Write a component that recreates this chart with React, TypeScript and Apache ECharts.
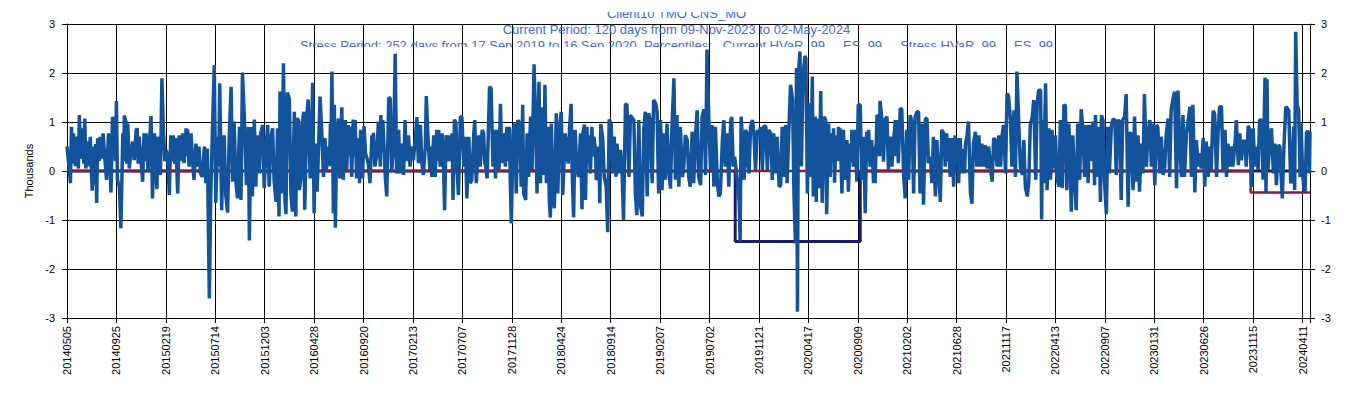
import React, { useEffect, useRef } from "react";
import * as echarts from "echarts";

// x tick labels, one every 100 trading days (day index 0, 100, ... 2500)
const tickLabels = [
  "20140505", "20140925", "20150219", "20150714", "20151203", "20160428",
  "20160920", "20170213", "20170707", "20171128", "20180424", "20180914",
  "20190207", "20190702", "20191121", "20200417", "20200909", "20210202",
  "20210628", "20211117", "20220413", "20220907", "20230131", "20230626",
  "20231115", "20240411",
];
const yTicks = [-3, -2, -1, 0, 1, 2, 3];

// daily P&L in thousands, [trading-day index, value]
const pnl2014to2016 = [
  [0,0.5],[3,0.2],[7,-0.25],[9,0.9],[11,0.15],[13,0.77],[17,0.1],[20,0.7],[23,0.05],[25,1.14],
  [28,0.25],[32,0.87],[34,0.15],[36,1.07],[38,0.05],[42,0.6],[45,0.1],[47,0.7],[51,-0.4],[53,0.5],
  [55,-0.29],[58,0.55],[60,-0.65],[62,0.67],[65,0.2],[67,0.7],[70,0.25],[73,0.77],[77,0.2],[80,-0.18],
  [84,0.77],[87,0.1],[89,-0.44],[92,1.1],[96,1.0],[98,0.2],[100,1.43],[102,-0.18],[106,-0.32],[109,-1.17],
  [113,0.77],[115,0.2],[116,1.13],[119,1.01],[121,0.15],[123,0.97],[126,0.05],[129,0.36],[133,0.6],[136,0.22],
  [140,0.84],[142,0.87],[144,0.15],[146,0.7],[150,0.2],[153,-0.22],[156,0.77],[158,0.2],[160,0.77],[164,-0.01],
  [167,0.6],[170,1.12],[173,-0.56],[177,0.77],[179,0.2],[182,-0.37],[183,0.7],[186,0.2],[189,-0.08],[192,1.89],
  [195,0.84],[198,0.2],[201,0.43],[204,0.22],[207,-0.49],[210,0.73],[213,0.2],[215,0.73],[218,0.15],[220,0.67],
  [224,-0.46],[227,0.73],[231,0.2],[234,0.77],[237,0.16],[241,0.87],[243,0.3],[244,0.85],[247,0.09],[251,0.77],
  [254,0.2],[257,-0.18],[261,0.56],[264,0.09],[267,0.5],[270,-0.05],[274,-0.12],[278,0.5],[281,-0.25],[284,0.46],
  [288,-2.6],[291,-0.42],[294,0.73],[298,2.16],[301,-0.65],[305,0.7],[307,0.1],[309,1.79],[313,-0.8],[315,0.3],
  [318,0.73],[321,-0.46],[325,-0.85],[328,0.63],[332,1.72],[335,-0.22],[338,1.01],[342,-0.25],[345,-0.56],[349,0.9],
  [352,-0.59],[355,2.01],[359,1.04],[363,-0.29],[367,0.9],[369,-1.42],[372,0.9],[375,-0.52],[379,1.05],[382,-0.32],
  [385,0.73],[389,-0.05],[392,0.77],[396,0.94],[399,-0.35],[402,0.36],[406,0.94],[409,-0.32],[413,0.7],[416,0.87],
  [419,-0.18],[423,-0.63],[426,0.87],[429,-0.93],[431,1.62],[434,-0.46],[438,2.2],[441,-0.59],[443,-0.88],[446,1.6],
  [450,1.46],[453,-0.46],[456,-0.83],[460,1.21],[463,-0.93],[465,1.07],[468,1.04],[470,-0.39],[473,-0.18],[475,0.9],
  [479,1.21],[481,-0.79],[485,1.1],[488,1.46],[492,-0.15],[495,0.7],[497,1.8],[500,-0.86],
];
const pnl2016to2018 = [
  [502,0.56],[504,0.2],[506,-0.42],[509,0.5],[512,1.52],[515,0.9],[519,-0.12],[522,0.67],[525,0.02],[529,0.5],
  [531,0.1],[533,0.97],[534,0.3],[536,2.03],[539,-0.86],[541,1.35],[543,-1.16],[546,0.97],[548,0.3],[549,1.07],
  [552,-0.15],[556,1.3],[559,-0.18],[563,1.04],[566,0.02],[569,0.94],[571,0.3],[573,0.9],[576,-0.12],[579,1.05],
  [581,0.3],[583,1.04],[586,-0.15],[590,0.67],[592,-0.25],[594,0.84],[598,-0.15],[601,0.92],[604,0.36],[608,0.22],
  [610,0.12],[613,-0.25],[617,0.73],[619,0.3],[620,0.78],[623,0.09],[627,0.36],[630,1.01],[634,0.09],[635,1.14],
  [637,0.4],[639,1.04],[644,-0.12],[647,-0.52],[651,1.5],[654,1.48],[657,0.0],[661,0.5],[664,2.39],[667,-0.05],
  [671,0.84],[674,-0.05],[677,0.56],[681,-0.08],[684,1.04],[686,0.3],[688,0.73],[689,0.2],[691,0.73],[694,0.09],
  [698,0.5],[701,0.22],[705,0.7],[708,1.1],[711,0.16],[715,0.94],[718,0.16],[721,-0.08],[725,0.5],[727,1.53],
  [730,0.77],[734,0.02],[736,0.5],[738,-0.12],[742,0.73],[745,-0.12],[748,0.84],[750,0.2],[752,0.84],[755,0.09],
  [759,0.77],[762,0.02],[764,-0.8],[767,0.73],[770,0.36],[772,0.2],[774,0.73],[777,0.2],[779,0.77],[781,-0.59],
  [784,1.05],[787,0.97],[789,0.09],[792,-0.49],[796,1.11],[799,1.1],[803,0.09],[806,0.7],[809,-0.56],[813,0.7],
  [816,-0.25],[819,-0.18],[823,0.73],[825,1.04],[828,-0.25],[831,0.3],[833,0.73],[836,0.09],[840,0.84],[843,0.77],
  [845,0.2],[847,0.09],[850,-0.15],[855,1.72],[858,1.69],[862,0.09],[865,0.84],[867,-0.15],[870,0.84],[874,0.02],
  [877,1.37],[880,0.16],[884,0.77],[887,0.09],[890,0.9],[892,0.2],[895,0.9],[897,-0.25],[899,-1.07],[903,0.84],
  [906,0.97],[909,-0.46],[912,1.04],[916,0.97],[919,-0.32],[922,1.35],[924,-0.46],[928,-0.59],[931,0.77],[934,-0.12],
  [938,1.11],[941,0.02],[945,2.18],[948,1.14],[951,-0.46],[955,1.82],[958,-0.25],[961,1.3],[965,-0.08],[967,1.76],
  [970,-0.25],[973,0.9],[976,-0.63],[978,-0.95],[980,0.97],[983,-0.46],[986,-0.76],[990,1.18],[993,-0.46],[997,0.9],
  [1000,1.21],[1003,-0.49],
];
const pnl2018to2020 = [
  [1008,0.77],[1010,0.2],[1012,0.7],[1014,0.15],[1017,0.9],[1020,1.37],[1022,0.02],[1025,-0.95],[1028,0.84],[1032,0.02],
  [1035,-0.12],[1039,0.77],[1042,-0.78],[1044,0.77],[1047,0.95],[1049,-0.59],[1052,0.9],[1054,0.3],[1055,0.73],[1059,-0.05],
  [1062,0.9],[1064,0.3],[1066,0.7],[1069,0.46],[1071,-0.18],[1074,-0.12],[1076,0.5],[1078,-0.66],[1080,0.96],[1084,0.67],
  [1087,-0.12],[1091,-0.32],[1094,-1.25],[1097,1.05],[1101,0.97],[1104,-0.05],[1107,0.7],[1111,-0.12],[1113,0.56],[1116,-0.05],
  [1120,0.43],[1123,0.02],[1126,-1.0],[1130,1.37],[1133,1.35],[1137,-0.12],[1140,1.14],[1143,1.09],[1147,1.04],[1150,-0.46],
  [1153,-0.9],[1157,1.04],[1160,-0.69],[1164,-0.93],[1167,0.84],[1170,1.21],[1174,-0.52],[1177,1.18],[1180,1.04],[1184,-0.25],
  [1187,1.45],[1191,1.38],[1194,1.21],[1197,-0.46],[1201,1.04],[1204,-0.39],[1207,0.77],[1211,-0.18],[1214,0.97],[1218,0.02],
  [1221,-0.36],[1224,0.89],[1228,1.89],[1231,-0.18],[1234,1.14],[1238,-0.32],[1241,0.9],[1245,-0.12],[1248,0.09],[1251,0.73],
  [1255,0.63],[1258,-0.12],[1261,-0.32],[1265,0.8],[1268,-0.25],[1272,0.77],[1275,1.24],[1278,-0.12],[1282,-0.29],[1285,1.11],
  [1289,1.26],[1292,-0.08],[1295,2.48],[1299,0.9],[1302,0.02],[1305,0.94],[1309,-0.32],[1312,0.9],[1316,-0.25],[1319,-0.52],
  [1322,-0.46],[1326,0.63],[1329,1.04],[1332,0.09],[1336,0.77],[1339,-0.32],[1343,1.04],[1345,1.1],[1348,0.09],[1351,0.29],
  [1356,-0.18],[1360,-0.63],[1362,-1.44],[1364,1.11],[1366,0.77],[1370,-0.18],[1373,0.84],[1376,0.77],[1378,0.1],[1380,-0.05],
  [1383,0.9],[1387,1.04],[1390,0.73],[1393,0.02],[1397,0.84],[1400,0.7],[1403,0.9],[1407,0.02],[1410,0.92],[1414,0.9],
  [1417,0.02],[1420,0.84],[1424,0.77],[1427,-0.18],[1430,0.77],[1434,-0.05],[1437,0.7],[1441,-0.32],[1444,-0.29],[1447,0.9],
  [1451,-0.12],[1454,0.94],[1457,-0.25],[1461,0.97],[1464,1.76],[1468,1.46],[1471,-0.52],[1474,-1.48],[1476,2.1],[1478,-2.87],
  [1480,2.0],[1483,2.44],[1486,0.09],[1489,1.89],[1493,2.35],[1495,2.3],[1498,-0.46],[1501,1.38],[1505,-0.12],[1508,1.93],
];
const pnl2020to2022 = [
  [1510,-0.52],[1514,1.11],[1516,-0.63],[1518,1.07],[1522,-0.35],[1525,1.63],[1528,-0.65],[1532,1.11],[1535,1.04],[1537,-0.88],
  [1541,0.97],[1544,-0.12],[1547,0.77],[1549,0.2],[1551,0.87],[1553,-0.24],[1556,0.73],[1559,0.2],[1561,0.9],[1563,0.3],
  [1564,0.87],[1568,-0.46],[1571,0.84],[1574,-0.18],[1578,0.63],[1581,-0.42],[1584,0.56],[1587,0.2],[1588,0.84],[1591,0.09],
  [1595,0.84],[1598,-0.22],[1601,1.35],[1605,1.35],[1608,-0.18],[1612,0.7],[1615,-0.86],[1618,0.8],[1620,0.2],[1622,0.84],
  [1625,0.09],[1628,0.63],[1632,-0.25],[1634,0.5],[1635,-0.25],[1639,1.14],[1642,1.11],[1644,0.3],[1645,1.43],[1649,1.04],
  [1652,0.19],[1655,1.04],[1659,1.11],[1662,0.02],[1666,0.7],[1669,0.09],[1672,0.56],[1676,1.04],[1678,0.3],[1679,1.04],
  [1682,0.16],[1686,1.28],[1689,1.26],[1693,-0.12],[1696,-0.56],[1699,0.84],[1703,-0.18],[1706,1.14],[1710,0.97],[1713,-0.46],
  [1716,1.11],[1720,1.21],[1723,1.21],[1726,-0.46],[1730,0.97],[1733,-0.69],[1737,1.07],[1740,1.07],[1743,0.16],[1747,0.29],
  [1750,-0.25],[1753,0.7],[1757,-0.52],[1760,0.63],[1764,-0.12],[1767,-0.63],[1770,0.84],[1774,0.77],[1777,0.09],[1780,0.77],
  [1782,0.2],[1784,0.67],[1787,-0.12],[1791,0.67],[1794,-0.32],[1797,0.73],[1799,0.2],[1801,0.67],[1804,-0.25],[1807,0.67],
  [1811,-0.05],[1813,0.45],[1816,-0.05],[1818,0.56],[1821,0.73],[1824,1.01],[1828,-0.46],[1831,-0.67],[1834,0.56],[1838,0.8],
  [1841,0.09],[1845,0.73],[1848,0.09],[1851,0.56],[1855,0.09],[1858,0.53],[1862,0.05],[1865,0.5],[1868,0.09],[1872,-0.22],
  [1875,0.67],[1878,0.63],[1882,0.09],[1885,0.73],[1889,0.09],[1892,0.73],[1895,0.94],[1899,-0.05],[1902,1.58],[1905,1.53],
  [1909,1.04],[1912,0.09],[1916,1.24],[1919,-0.12],[1922,2.03],[1926,0.9],[1929,0.09],[1933,-0.08],[1936,0.63],[1939,-0.32],
  [1943,-0.52],[1946,-0.22],[1949,0.94],[1953,1.11],[1956,1.45],[1960,-0.18],[1963,1.38],[1966,1.65],[1970,1.65],[1972,-0.99],
  [1974,1.04],[1976,-0.25],[1980,1.79],[1983,-0.39],[1987,0.87],[1990,-0.18],[1993,0.84],[1997,0.05],[2000,0.73],[2003,-0.15],
  [2007,-0.32],
];
const pnl2022to2024 = [
  [2010,1.04],[2014,-0.35],[2017,1.35],[2020,1.33],[2023,-0.39],[2027,0.97],[2030,0.2],[2032,-0.83],[2035,0.73],[2039,-0.25],
  [2042,-0.8],[2045,0.97],[2049,-0.18],[2052,1.26],[2055,0.9],[2059,-0.12],[2062,0.94],[2066,-0.25],[2069,0.94],[2072,0.84],
  [2074,0.2],[2076,1.01],[2079,-0.29],[2081,1.14],[2084,-0.12],[2088,0.9],[2091,-0.63],[2093,1.14],[2096,1.04],[2099,-0.18],
  [2103,-0.88],[2106,0.9],[2109,-0.05],[2113,0.9],[2116,1.05],[2120,1.05],[2123,-0.08],[2126,1.04],[2130,1.01],[2133,-0.59],
  [2136,1.04],[2140,1.11],[2143,1.57],[2147,-0.73],[2150,0.77],[2153,0.77],[2157,-0.39],[2160,1.11],[2164,-0.22],[2167,0.73],
  [2170,-0.42],[2174,0.56],[2177,-0.05],[2180,1.57],[2184,0.09],[2187,0.73],[2191,1.04],[2194,0.09],[2197,0.97],[2201,-0.29],
  [2204,0.94],[2207,0.9],[2211,-0.05],[2214,0.7],[2218,-0.08],[2221,0.09],[2224,0.73],[2228,1.07],[2231,-0.12],[2234,1.24],
  [2238,1.48],[2241,1.62],[2245,-0.35],[2248,1.64],[2251,0.63],[2255,-0.12],[2258,1.14],[2261,-0.12],[2265,0.77],[2268,0.99],
  [2272,1.31],[2275,-0.12],[2278,1.35],[2282,-0.44],[2285,0.63],[2289,0.09],[2292,0.36],[2295,0.05],[2299,0.67],[2302,-0.32],
  [2305,0.6],[2309,-0.12],[2312,0.5],[2315,0.02],[2319,1.23],[2322,1.17],[2326,-0.12],[2329,0.77],[2332,1.31],[2336,1.31],
  [2339,-0.01],[2343,0.84],[2346,-0.12],[2349,0.56],[2353,0.09],[2356,0.5],[2359,0.09],[2363,0.53],[2366,1.04],[2370,0.12],
  [2373,0.77],[2376,0.22],[2380,0.6],[2383,0.63],[2386,0.09],[2390,0.92],[2393,0.84],[2397,-0.32],[2400,0.87],[2403,0.09],
  [2407,0.5],[2410,0.02],[2413,1.04],[2417,1.04],[2420,-0.18],[2424,1.91],[2426,-0.46],[2428,1.87],[2430,0.02],[2434,0.67],
  [2437,0.87],[2441,-0.05],[2444,0.56],[2447,-0.29],[2451,0.53],[2454,0.5],[2457,-0.18],[2459,-0.56],[2462,0.43],[2466,1.31],
  [2469,1.28],[2472,1.23],[2476,-0.25],[2479,-0.12],[2482,0.9],[2484,-0.39],[2486,2.84],[2489,1.35],[2492,1.25],[2495,-0.12],
  [2497,0.97],[2500,-0.05],[2503,-0.39],[2505,-0.42],[2508,0.8],[2512,0.8],[2514,-0.05],[2515,0.8],
];

// stress period (17 Sep 2019 - 16 Sep 2020) and current period HVaR levels
const lastIndex = 2515;
const stressStart = 1352;
const stressEnd = 1605;
const stressLevel = -1.44;
const currentStart = 2395;
const currentLevel = -0.44;

const titleLines = [
  "Client10 TMO CNS_MO",
  "Current Period: 120 days from 09-Nov-2023 to 02-May-2024",
  "Stress Period: 252 days from 17 Sep 2019 to 16 Sep 2020, Percentiles:   Current HVaR .99,    ES .99,    Stress HVaR .99,    ES .99",
];

const FONT = 'Arial, "Liberation Sans", sans-serif';
const BLUE = "#12539b";

export default function App() {
  const mainRef = useRef<HTMLDivElement>(null);
  const titleRef = useRef<HTMLDivElement>(null);

  useEffect(() => {
    if (!mainRef.current || !titleRef.current) return;
    const chart = echarts.init(mainRef.current, null, { renderer: "svg" });
    const titleChart = echarts.init(titleRef.current, null, { renderer: "svg" });

    const pnlData = [
      ...pnl2014to2016,
      ...pnl2016to2018,
      ...pnl2018to2020,
      ...pnl2020to2022,
      ...pnl2022to2024,
    ];
    const stressData = [
      [0, 0],
      [stressStart, 0],
      [stressStart, stressLevel],
      [stressEnd, stressLevel],
      [stressEnd, 0],
      [lastIndex, 0],
    ];
    const currentData = [
      [0, 0],
      [currentStart, 0],
      [currentStart, currentLevel],
      [lastIndex, currentLevel],
    ];

    const yBase = {
      type: "value",
      min: yTicks[0],
      max: yTicks[yTicks.length - 1],
      interval: 1,
      axisLine: { show: true, lineStyle: { color: "#000", width: 1 } },
      axisTick: { show: true, length: 5, inside: false, lineStyle: { color: "#000" } },
      axisLabel: { color: "#000", fontSize: 11, fontFamily: FONT },
    };

    chart.setOption({
      animation: false,
      backgroundColor: "#fff",
      grid: { left: 67, right: 43, top: 24, bottom: 80, containLabel: false },
      xAxis: {
        type: "value",
        min: 0,
        max: lastIndex,
        interval: 100,
        axisLine: { show: true, onZero: false, lineStyle: { color: "#000", width: 1 } },
        axisTick: { show: true, length: 5, lineStyle: { color: "#000" } },
        splitLine: { show: true, lineStyle: { color: "#000", width: 1 } },
        axisLabel: {
          rotate: 90,
          margin: 8,
          color: "#000",
          fontSize: 11,
          fontFamily: FONT,
          showMinLabel: true,
          showMaxLabel: true,
          formatter: (v: number) => {
            const i = Math.round(v / 100);
            return Math.abs(v - i * 100) < 1e-6 && i < tickLabels.length ? tickLabels[i] : "";
          },
        },
      },
      yAxis: [
        {
          ...yBase,
          position: "left",
          name: "Thousands",
          nameLocation: "middle",
          nameGap: 30,
          nameTextStyle: { color: "#000", fontSize: 11, fontFamily: FONT },
          splitLine: { show: true, lineStyle: { color: "#000", width: 1 } },
          axisLabel: { ...yBase.axisLabel, margin: 12 },
        },
        {
          ...yBase,
          position: "right",
          splitLine: { show: false },
          axisLabel: { ...yBase.axisLabel, margin: 11 },
        },
      ],
      series: [
        {
          type: "line",
          name: "Stress HVaR",
          data: stressData,
          showSymbol: false,
          silent: true,
          z: 2,
          lineStyle: { color: "#1b1b6b", width: 3 },
        },
        {
          type: "line",
          name: "Current HVaR",
          data: currentData,
          showSymbol: false,
          silent: true,
          z: 3,
          lineStyle: { color: "#8c1a3c", width: 2.5 },
        },
        {
          type: "line",
          name: "P&L",
          data: pnlData,
          showSymbol: false,
          silent: true,
          z: 4,
          lineStyle: { color: BLUE, width: 3.5, join: "bevel" },
        },
      ],
    });

    titleChart.setOption({
      animation: false,
      graphic: titleLines.map((t, i) => ({
        type: "text",
        x: 676.5,
        y: 1.5 + i * 16,
        silent: true,
        style: {
          text: t,
          fill: "#4169e1",
          font: `13px ${FONT}`,
          align: "center",
          verticalAlign: "middle",
        },
      })),
    });

    return () => {
      chart.dispose();
      titleChart.dispose();
    };
  }, []);

  return (
    <>
      <div
        ref={mainRef}
        style={{ position: "absolute", left: 0, top: 0, width: 1353, height: 398 }}
      />
      <div
        ref={titleRef}
        style={{
          position: "absolute",
          left: 0,
          top: 12,
          width: 1353,
          height: 35,
          pointerEvents: "none",
        }}
      />
    </>
  );
}
